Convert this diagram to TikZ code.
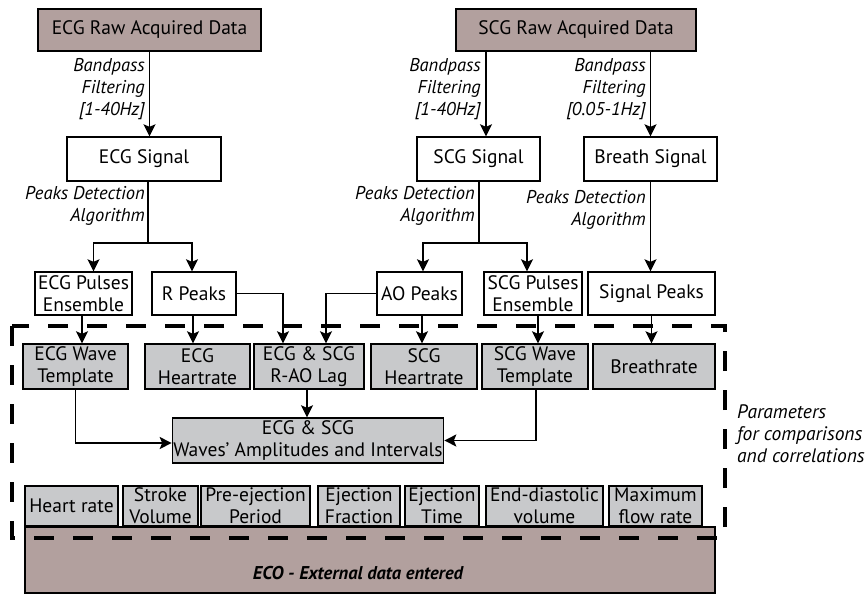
\documentclass[tikz,border=0pt]{standalone}
\usepackage{fontspec}
\setmainfont{PT Sans}
\usetikzlibrary{arrows.meta}
\definecolor{rawbrown}{RGB}{178,160,158}
\definecolor{paramgray}{RGB}{200,201,203}
\tikzset{
  box/.style={draw, line width=1.4pt, align=center, inner sep=1pt, font=\fontsize{19.5}{22}\selectfont},
  rawbox/.style={box, fill=rawbrown},
  parbox/.style={box, fill=paramgray},
  link/.style={line width=1.6pt},
  arr/.style={link, -{Stealth[length=12pt,width=12pt,inset=2.5pt]}},
  steplabel/.style={font=\fontsize{18.5}{22}\selectfont\itshape, align=right, anchor=east, inner sep=0pt},
  paramframe/.style={line width=4pt, dash pattern=on 20pt off 19pt},
}
\begin{document}
\begin{tikzpicture}[x=1pt, y=-1pt, line join=miter]
  \useasboundingbox (0,0) rectangle (867,594);
  % acquired data and signals
  \node[rawbox, minimum width=223, minimum height=42] (ecgraw) at (149.5,30) {ECG Raw Acquired Data};
  \node[rawbox, minimum width=240, minimum height=42] (scgraw) at (576,30) {SCG Raw Acquired Data};
  \node[box, minimum width=154, minimum height=44] (ecgsig) at (144,159) {ECG Signal};
  \node[box, minimum width=123, minimum height=44] (scgsig) at (478.5,159) {SCG Signal};
  \node[box, minimum width=133, minimum height=44] (breathsig) at (650.5,159) {Breath Signal};
  % peaks
  \node[box, minimum width=97, minimum height=43] (ecgpulses) at (83.5,293.5) {ECG Pulses\\Ensemble};
  \node[box, minimum width=84, minimum height=43] (rpeaks) at (194,293.5) {R Peaks};
  \node[box, minimum width=85, minimum height=43] (aopeaks) at (419.5,293.5) {AO Peaks};
  \node[box, minimum width=98, minimum height=43] (scgpulses) at (533,293.5) {SCG Pulses\\Ensemble};
  \node[box, minimum width=127, minimum height=43] (sigpeaks) at (651.5,293.5) {Signal Peaks};
  % parameters
  \node[parbox, minimum width=105, minimum height=45] (ecgwave) at (75.5,366.5) {ECG Wave\\Template};
  \node[parbox, minimum width=105, minimum height=45] (ecghr) at (197.5,366.5) {ECG\\Heartrate};
  \node[parbox, minimum width=110, minimum height=45] (lag) at (309,366.5) {ECG \& SCG\\R-AO Lag};
  \node[parbox, minimum width=106, minimum height=45] (scghr) at (424,366.5) {SCG\\Heartrate};
  \node[parbox, minimum width=106, minimum height=45] (scgwave) at (535,366.5) {SCG Wave\\Template};
  \node[parbox, minimum width=122, minimum height=45] (breathrate) at (654,366.5) {Breathrate};
  \node[parbox, minimum width=270, minimum height=45] (waves) at (308,440.5) {ECG \& SCG\\Waves’ Amplitudes and Intervals};
  % external data
  \node[rawbox, minimum width=690, minimum height=66] (eco) at (370,560) {};
  \node[font=\fontsize{18.5}{22}\selectfont\bfseries\itshape] (ecotext) at (358,573) {ECO - External data entered};
  \foreach \name/\cx/\w/\txt in {heart/71.5/93/Heart rate, stroke/160.5/75/Stroke\\Volume,
      pep/255.5/109/Pre-ejection\\Period, ef/359/82/Ejection\\Fraction, et/442/74/Ejection\\Time,
      edv/544.5/117/End-diastolic\\volume, mfr/655.5/93/Maximum\\flow rate}
    \node[parbox, minimum width=\w, minimum height=40] (\name) at (\cx,506) {\txt};
  % filtering
  \coordinate (scgtap) at ([xshift=7.5pt]scgsig.north);
  \draw[arr] (ecgraw) -- (ecgraw |- ecgsig.north);
  \draw[arr] (scgraw.south -| scgtap) -- (scgtap);
  \draw[arr] (scgraw.south -| breathsig.north) -- (breathsig.north);
  \node[steplabel] at (145,89) {Bandpass\\Filtering\\{[1-40Hz]}};
  \node[steplabel] at (481,89) {Bandpass\\Filtering\\{[1-40Hz]}};
  \node[steplabel] at (646,89) {Bandpass\\Filtering\\{[0.05-1Hz]}};
  % peaks detection
  \coordinate (ecgsplit) at (148,243);
  \coordinate (scgsplit) at (479,243);
  \draw[link] (ecgsig.south -| ecgsplit) -- (ecgsplit);
  \draw[arr] (ecgsplit) -| ([xshift=10pt]ecgpulses.north);
  \draw[arr] (ecgsplit) -| ([xshift=-2pt]rpeaks.north);
  \draw[link] (scgsig.south -| scgsplit) -- (scgsplit);
  \draw[arr] (scgsplit) -| ([xshift=3.5pt]aopeaks.north);
  \draw[arr] (scgsplit) -| ([xshift=-6pt]scgpulses.north);
  \draw[arr] (breathsig) -- (breathsig |- sigpeaks.north);
  \node[steplabel] at (145,206) {Peaks Detection\\Algorithm};
  \node[steplabel] at (475,206) {Peaks Detection\\Algorithm};
  \node[steplabel] at (646,210) {Peaks Detection\\Algorithm};
  % into parameters
  \draw[arr] ([xshift=-1.5pt]ecgpulses.south) -- ([xshift=6.5pt]ecgwave.north);
  \draw[arr] ([xshift=-1pt]rpeaks.south) -- ([xshift=-4.5pt]ecghr.north);
  \draw[arr] (rpeaks.east) -| ([xshift=-26pt]lag.north);
  \draw[arr] (aopeaks.west) -| ([xshift=17pt]lag.north);
  \draw[arr] ([xshift=2.5pt]aopeaks.south) -- ([xshift=-2pt]scghr.north);
  \draw[arr] ([xshift=5pt]scgpulses.south) -- ([xshift=3pt]scgwave.north);
  \draw[arr] (sigpeaks) -- (sigpeaks |- breathrate.north);
  \draw[arr] ([xshift=-2pt]lag.south) -- ([xshift=-1pt]waves.north);
  \draw[arr] (ecgwave.south) |- ([yshift=-2.5pt]waves.west);
  \draw[arr] ([xshift=1pt]scgwave.south) |- (waves.east);
  % parameters frame
  \draw[paramframe] (12,326) rectangle (725,538);
  \node[font=\fontsize{19.5}{22}\selectfont\itshape, align=left, anchor=west, inner sep=0pt] (paramtext) at (737,434)
    {Parameters\\for comparisons\\and correlations};
\end{tikzpicture}
\end{document}
